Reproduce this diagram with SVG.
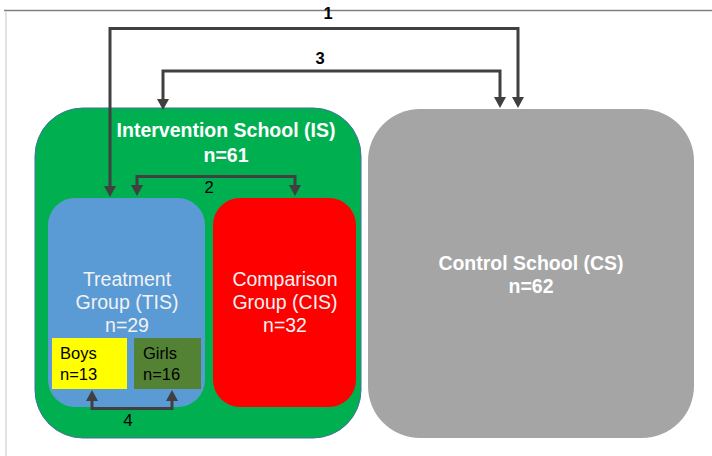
<svg xmlns="http://www.w3.org/2000/svg" width="712" height="456" viewBox="0 0 712 456">
<style>
.t{font-family:"Liberation Sans",Arial,sans-serif}
.wb{fill:#FFFFFF;font-weight:bold;font-size:19.5px;text-anchor:middle}
.wn{fill:#F2F2F2;font-size:19.5px;text-anchor:middle}
.bk{fill:#000000;font-size:16.5px}
.lbl{fill:#000000;text-anchor:middle}
.con{fill:none;stroke:#404040;stroke-width:3}
</style>
<defs>
<marker id="ah" markerUnits="userSpaceOnUse" markerWidth="12" markerHeight="12" refX="0" refY="6" orient="auto-start-reverse">
<path d="M0,0 L11,6 L0,12 z" fill="#404040"/>
</marker>
</defs>
<rect width="712" height="456" fill="#FFFFFF"/>
<line x1="4" y1="10.5" x2="712" y2="10.5" stroke="#7F7F7F" stroke-width="1.5"/>
<line x1="6" y1="11" x2="6" y2="456" stroke="#D9D9D9" stroke-width="1.5"/>

<g id="intervention-school">
<rect x="35" y="108" width="326" height="330" rx="48" ry="48" fill="#00B050" stroke="#41719C" stroke-width="1"/>
<text class="t wb" x="226" y="137">Intervention School (IS)</text>
<text class="t wb" x="226" y="162">n=61</text>
</g>
<g id="control-school">
<rect x="368" y="109" width="326" height="329" rx="52" ry="52" fill="#A5A5A5"/>
<text class="t wb" x="531" y="270">Control School (CS)</text>
<text class="t wb" x="531" y="293">n=62</text>
</g>
<g id="treatment-group">
<rect x="48" y="198" width="157" height="209" rx="27" ry="27" fill="#5B9BD5"/>
<text class="t wn" x="127" y="286">Treatment</text>
<text class="t wn" x="127" y="309">Group (TIS)</text>
<text class="t wn" x="127" y="332">n=29</text>
</g>
<g id="comparison-group">
<rect x="213" y="198" width="143" height="209" rx="27" ry="27" fill="#FF0000"/>
<text class="t wn" x="285" y="286">Comparison</text>
<text class="t wn" x="285" y="309">Group (CIS)</text>
<text class="t wn" x="285" y="332">n=32</text>
</g>
<g id="boys">
<rect x="52" y="338" width="75" height="51" fill="#FFFF00"/>
<text class="t bk" x="60" y="359">Boys</text>
<text class="t bk" x="60" y="380">n=13</text>
</g>
<g id="girls">
<rect x="134" y="338" width="67" height="51" fill="#548235"/>
<text class="t bk" x="143" y="359">Girls</text>
<text class="t bk" x="143" y="380">n=16</text>
</g>

<g id="connectors">
<path class="con" d="M110,186 V28.5 H518 V97" marker-start="url(#ah)" marker-end="url(#ah)"/>
<path class="con" d="M163,99 V71 H500 V97" marker-start="url(#ah)" marker-end="url(#ah)"/>
<path class="con" d="M137,185 V176.5 H295 V185" stroke-width="2.5" marker-start="url(#ah)" marker-end="url(#ah)"/>
<path class="con" d="M92,401 V408.5 H172 V401" stroke-width="2.5" marker-start="url(#ah)" marker-end="url(#ah)"/>
<text class="t lbl" x="328" y="19" font-size="16.5" font-weight="bold">1</text>
<text class="t lbl" x="320" y="64" font-size="16.5" font-weight="bold">3</text>
<text class="t lbl" x="209" y="193" font-size="16.5">2</text>
<text class="t lbl" x="128" y="425.5" font-size="17">4</text>
</g>
</svg>
